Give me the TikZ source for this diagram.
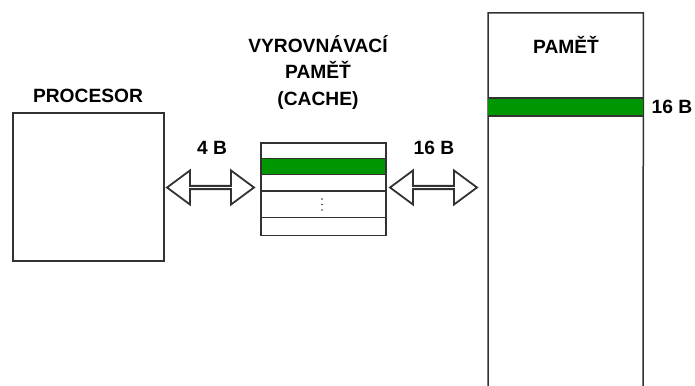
\documentclass[tikz,border=0pt]{standalone}
\usepackage{fontspec}
\setmainfont{Liberation Sans}
\usetikzlibrary{shapes.arrows}
\definecolor{edge}{RGB}{50,50,50}
\definecolor{band}{RGB}{0,150,0}
\begin{document}
\begin{tikzpicture}[x=1pt,y=-1pt,
  lbl/.style={font=\fontsize{19.2}{26.5}\selectfont\bfseries, align=center, inner sep=0pt},
  box/.style={draw=edge, line width=1.5pt, fill=white},
  rule/.style={draw=edge, line width=1.5pt},
  bus/.style={draw=edge, line width=1.8pt, fill=white, double arrow, inner sep=0pt,
    minimum width=34pt, minimum height=87pt, double arrow head extend=8.5pt,
    double arrow tip angle=73, shape border rotate=0}]
\useasboundingbox (0,0) rectangle (695,385);
% processor
\node[box, minimum width=151pt, minimum height=148pt, inner sep=0pt, anchor=north west] (proc) at (12,112) {};
\node[lbl] (proclbl) at (88,96) {PROCESOR};
% cache
\node[box, minimum width=125pt, minimum height=92.5pt, inner sep=0pt, anchor=north west] (cache) at (260,142) {};
\fill[band] (260,158.3) rectangle (385,174.3);
\draw[rule] (260,158.3) -- (385,158.3);
\draw[rule] (260,174.3) -- (385,174.3);
\draw[rule] (260,191) -- (385,191);
\draw[rule] (260,217.3) -- (385,217.3);
\node[box, fill=none, minimum width=125pt, minimum height=92.5pt, inner sep=0pt, anchor=north west] (cacheframe) at (260,142) {};
\foreach \yy in {199,204.5,210} \fill[edge] (322,\yy) circle (0.9pt);
\node[lbl] (cachelbl) at (318,72) {VYROVNÁVACÍ\\PAMĚŤ\\(CACHE)};
% memory
\coordinate (mbl) at (488,392);
\coordinate (mbr) at (643,392);
\node[inner sep=0pt, minimum width=155pt, minimum height=379pt, anchor=north west] (mem) at (488,13) {};
\draw[rule] (mbl) -- (mem.north west) -- (mem.north east) -- (mbr);
\fill[band] (488,98) rectangle (643,116);
\draw[rule] (488,98) -- (643,98);
\draw[rule] (488,116) -- (643,116);
\node[lbl] (memlbl) at (566,45) {PAMĚŤ};
\node[lbl] (memb) at (672,107) {16 B};
% buses
\node[bus] (busl) at (210.5,187.5) {};
\node[bus] (busr) at (433.5,187.5) {};
\node[lbl] (busllbl) at (212,148) {4 B};
\node[lbl] (busrlbl) at (434,148) {16 B};
\end{tikzpicture}
\end{document}
